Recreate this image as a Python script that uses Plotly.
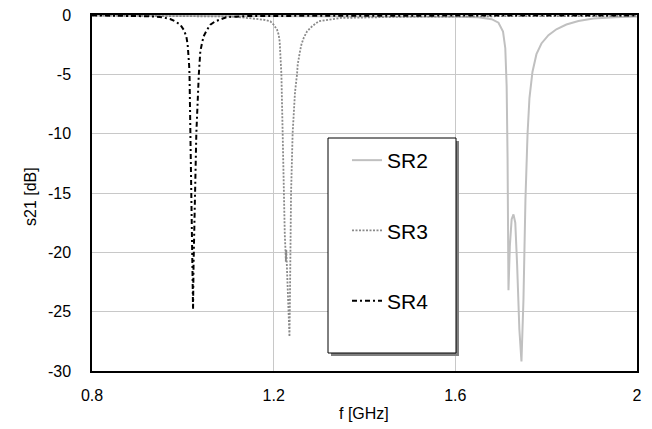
import plotly.graph_objects as go

# ---- data ----
sr2_f = [0.80, 1.20, 1.50, 1.60, 1.65, 1.68, 1.695, 1.705, 1.710, 1.7130, 1.7150, 1.7160, 1.7170,
         1.7200, 1.7240, 1.7280, 1.7320, 1.7360, 1.7410, 1.7456, 1.7500, 1.7544, 1.7590, 1.7632,
         1.7698, 1.7786, 1.7896, 1.8050, 1.8225, 1.8445, 1.8710, 1.9040, 1.9520, 2.00]
sr2_db = [-0.05, -0.08, -0.12, -0.15, -0.2, -0.35, -0.65, -1.4, -2.8, -6.0, -12.0, -18.0, -23.2,
          -19.5, -17.2, -16.8, -17.5, -21.0, -26.5, -29.2, -24.0, -15.5, -10.0, -7.0,
          -4.8, -3.3, -2.4, -1.7, -1.2, -0.8, -0.5, -0.3, -0.18, -0.13]

sr3_f = [0.80, 1.00, 1.10, 1.1267, 1.160, 1.178, 1.1927, 1.2000, 1.2075, 1.2110,
         1.2132, 1.2148, 1.2163, 1.2170, 1.2198, 1.2220, 1.2245, 1.2258, 1.2268, 1.2278,
         1.2300, 1.2325, 1.2348, 1.2358, 1.2368, 1.2383, 1.2418, 1.2470, 1.2515, 1.2529,
         1.2573, 1.2610, 1.2660, 1.2736, 1.2846, 1.2991, 1.3470, 1.4790, 1.70, 2.00]
sr3_db = [-0.05, -0.07, -0.12, -0.19, -0.30, -0.40, -0.53, -0.82, -1.24, -1.66,
          -2.22, -3.06, -4.19, -4.97, -9.94, -15.0, -18.5, -19.6, -20.8, -19.8,
          -22.0, -25.0, -27.1, -24.0, -20.0, -15.0, -9.94, -6.5, -4.97, -4.19,
          -3.2, -2.5, -1.94, -1.37, -0.95, -0.53, -0.25, -0.15, -0.1, -0.08]

sr4_f = [0.80, 0.88, 0.93, 0.954, 0.972, 0.983, 0.9945, 1.0018, 1.0077, 1.0106,
         1.0126, 1.0138, 1.0147, 1.0165, 1.0182, 1.0192, 1.0205, 1.0216, 1.0225, 1.0236,
         1.0249, 1.0264, 1.0297, 1.0352, 1.0365, 1.0385, 1.0423, 1.0458, 1.0533,
         1.0606, 1.0716, 1.0974, 1.15, 1.30, 1.60, 2.00]
sr4_db = [-0.03, -0.06, -0.11, -0.19, -0.34, -0.53, -0.82, -1.24, -1.79, -2.5,
          -3.34, -4.19, -5.0, -10.0, -15.0, -17.5, -20.5, -22.5, -24.8, -21.0,
          -18.0, -15.0, -10.0, -5.0, -3.9, -3.06, -2.36, -1.79, -1.24,
          -0.82, -0.53, -0.17, -0.08, -0.05, -0.05, -0.05]

x_ticks = [0.8, 1.2, 1.6, 2.0]
x_ticktext = ["0.8", "1.2", "1.6", "2"]
y_ticks = [0, -5, -10, -15, -20, -25, -30]
y_ticktext = ["0", "-5", "-10", "-15", "-20", "-25", "-30"]

FONT = "Liberation Sans, Arial, sans-serif"
W, H = 652, 429
L, R, T, B = 92, 637, 15, 371


def px(x):
    return (x - L) / (R - L)


def py(y):
    return (B - y) / (B - T)


fig = go.Figure()
fig.add_trace(go.Scatter(x=sr2_f, y=sr2_db, name="SR2", mode="lines", legendgroup="a",
                         line=dict(color="#c0c0c0", width=2)))
fig.add_trace(go.Scatter(x=sr3_f, y=sr3_db, name="SR3", mode="lines", legendgroup="b",
                         line=dict(color="#8a8a8a", width=1.8, dash="2px,1.5px")))
fig.add_trace(go.Scatter(x=sr4_f, y=sr4_db, name="SR4", mode="lines", legendgroup="c",
                         line=dict(color="#000000", width=2, dash="5px,3px,2px,3px")))

shapes = [
    dict(type="rect", xref="paper", yref="paper", x0=px(331), x1=px(459), y0=py(356), y1=py(141),
         fillcolor="#808080", line=dict(width=0), layer="above"),
    dict(type="rect", xref="paper", yref="paper", x0=px(328), x1=px(456), y0=py(353), y1=py(138),
         fillcolor="white", line=dict(color="black", width=1), layer="above"),
]

fig.update_layout(
    width=W, height=H,
    margin=dict(l=L, r=W - R, t=T, b=H - B, autoexpand=False),
    paper_bgcolor="white", plot_bgcolor="white",
    font=dict(family=FONT, size=16, color="black"),
    showlegend=True,
    legend=dict(x=px(347), y=py(140), xanchor="left", yanchor="top",
                bgcolor="rgba(0,0,0,0)", borderwidth=0,
                font=dict(family=FONT, size=21, color="black"),
                tracegroupgap=40, itemwidth=30),
    shapes=shapes,
    annotations=[
        dict(text="s21 [dB]", xref="paper", yref="paper", x=px(30), y=py(197),
             xanchor="center", yanchor="middle",
             textangle=-90, showarrow=False, font=dict(family=FONT, size=16)),
        dict(text="f [GHz]", xref="paper", yref="paper", x=px(364), y=py(413),
             xanchor="center", yanchor="middle",
             showarrow=False, font=dict(family=FONT, size=16)),
    ],
)
fig.update_xaxes(range=[0.8, 2.0], tickvals=x_ticks, ticktext=x_ticktext,
                 showgrid=True, gridcolor="#c8c8c8", gridwidth=1,
                 showline=True, linecolor="black", linewidth=1.5, mirror=True,
                 zeroline=False, ticks="", ticklabelstandoff=9)
fig.update_yaxes(range=[-30, 0], tickvals=y_ticks, ticktext=y_ticktext,
                 showgrid=True, gridcolor="#c8c8c8", gridwidth=1,
                 showline=True, linecolor="black", linewidth=1.5, mirror=True,
                 zeroline=False, ticks="", ticklabelstandoff=16)

fig.write_html("out.html", config={"displayModeBar": False},
               post_script="document.body.style.margin='0';")
